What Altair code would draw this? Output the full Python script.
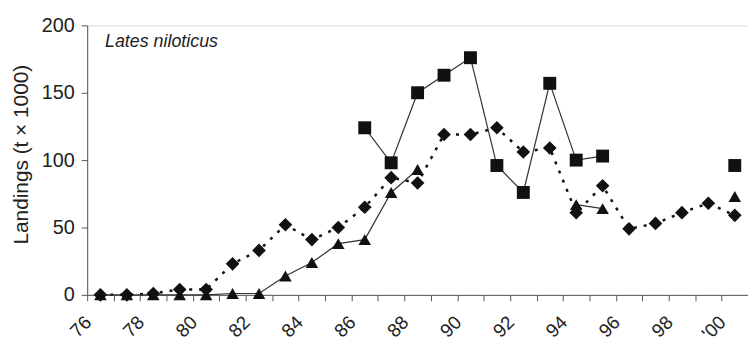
import altair as alt
import pandas as pd

years = ["76", "77", "78", "79", "80", "81", "82", "83", "84", "85", "86", "87", "88",
         "89", "90", "91", "92", "93", "94", "95", "96", "97", "98", "99", "'00"]
label_years = ["76", "78", "80", "82", "84", "86", "88", "90", "92", "94", "96", "98", "'00"]

diamond = [0, 0, 1, 4, 4, 23, 33, 52, 41, 50, 65, 87, 83, 119, 119, 124, 106, 109, 61, 81,
           49, 53, 61, 68, 59]
square = [None, None, None, None, None, None, None, None, None, None,
          124, 98, 150, 163, 176, 96, 76, 157, 100, 103, None, None, None, None, 96]
triangle = [0, 0, 0, 0, 0, 1, 1, 14, 24, 38, 41, 76, 93, None, None, None, None, None,
            67, 64, None, None, None, None, 73]


def to_frame(values, name):
    rows = []
    seg = 0
    for y, v in zip(years, values):
        if v is None:
            seg += 1
            continue
        rows.append({"year": y, "value": v, "series": name, "seg": seg})
    return pd.DataFrame(rows)


df_d = to_frame(diamond, "diamond")
df_s = to_frame(square, "square")
df_t = to_frame(triangle, "triangle")

label_expr = "indexof([" + ",".join('"%s"' % l for l in label_years) + "], datum.value) >= 0 ? datum.label : ''"

x_enc = alt.X(
    "year:O",
    sort=years,
    scale=alt.Scale(type="band", domain=years, paddingInner=0, paddingOuter=0),
    axis=alt.Axis(
        title=None, tickBand="extent", labelAngle=315, labelAlign="right", labelBaseline="top",
        labelFontSize=19, labelColor="#222", labelOffset=-19, labelPadding=12, tickSize=6,
        tickColor="#555", domainColor="#555", labelExpr=label_expr, grid=False,
    ),
)
y_enc = alt.Y(
    "value:Q",
    scale=alt.Scale(domain=[0, 200], nice=False),
    axis=alt.Axis(
        values=[0, 50, 100, 150, 200], title="Landings (t × 1000)", titleFontSize=21,
        titleFontWeight="normal", titleColor="#222", titlePadding=10, titleY=130,
        labelFontSize=20, labelColor="#222", labelPadding=7, tickSize=6, tickColor="#555",
        domainColor="#555", grid=False,
    ),
)

def base(df):
    return alt.Chart(df).encode(x=x_enc, y=y_enc, detail="seg:N")

d_line = base(df_d).mark_line(color="#111", strokeWidth=2.5, strokeDash=[3, 7])
s_line = base(df_s).mark_line(color="#333", strokeWidth=1.2)
t_line = base(df_t).mark_line(color="#333", strokeWidth=1.2)
d_pt = base(df_d).mark_point(shape="diamond", filled=True, size=190, color="#111", opacity=1)
s_pt = base(df_s).mark_point(shape="square", filled=True, size=170, color="#111", opacity=1)
t_pt = base(df_t).mark_point(shape="triangle-up", filled=True, size=160, color="#111", opacity=1)

chart = alt.layer(d_line, s_line, t_line, d_pt, t_pt, s_pt).properties(
    width=667,
    height=272,
    autosize=alt.AutoSizeParams(type="none"),
    padding={"left": 88, "top": 24, "right": 0, "bottom": 49},
    title=alt.Title(
        "Lates niloticus", anchor="start", frame="group", fontStyle="italic",
        fontWeight="normal", fontSize=18, color="#222", dx=18, dy=36, offset=0,
    ),
).configure_view(stroke=None).configure(font="Liberation Sans", background="white")

chart.save("out.html", embed_options={"renderer": "svg", "actions": False})
